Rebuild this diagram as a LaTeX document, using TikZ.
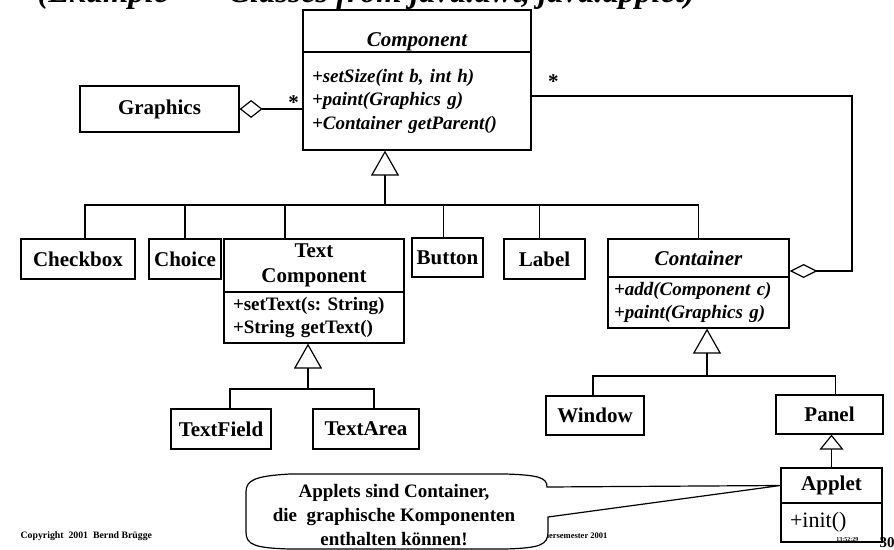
\documentclass[tikz,border=0pt]{standalone}
\usepackage{fontspec}
\setmainfont{Liberation Serif}
\usetikzlibrary{arrows.meta}
\frenchspacing

\begin{document}
\begin{tikzpicture}[x=1pt, y=-1pt, line width=1.2pt,
  box/.style={draw, inner sep=0pt, font=\fontsize{21}{25}\selectfont\bfseries},
  abs/.style={box, font=\fontsize{21}{25}\selectfont\bfseries\itshape},
  ops/.style={draw, inner xsep=9pt, inner ysep=0pt, align=left, font=\fontsize{19}{23.5}\selectfont\bfseries\itshape},
  inh/.style={-{Triangle[open, length=25pt, width=28pt]}},
  agg/.style={-{Diamond[open, length=23pt, width=18pt]}},
  mult/.style={inner sep=0pt, font=\fontsize{21}{25}\selectfont\bfseries},
  foot/.style={inner sep=0pt, font=\fontsize{9.8}{10}\selectfont\bfseries}]
\useasboundingbox (0,0) rectangle (894,549);
\clip (0,0) rectangle (894,549);

\node[anchor=base west, inner sep=0pt, font=\fontsize{32.7}{36}\selectfont\bfseries\itshape] (title) at (37,2) {(Example \,---\, Classes from java.awt, java.applet)};

\node[abs, minimum width=228pt, minimum height=42pt, text height=33pt, text depth=3pt] (comp) at (417,31) {Component};
\node[ops, text width=210pt, minimum height=98pt] (compm) at (417,101) {+setSize(int b, int h)\\+paint(Graphics g)\\+Container getParent()};
\node[box, minimum width=159pt, minimum height=46pt] (gr) at (159.5,109) {Graphics};

\node[box, minimum width=114pt, minimum height=40pt] (cb) at (78,259) {Checkbox};
\node[box, minimum width=72pt, minimum height=40pt] (ch) at (185,259) {Choice};
\node[box, minimum width=180pt, minimum height=53pt, align=center] (tc) at (314,265.5) {Text\\Component};
\node[ops, font=\fontsize{19}{23}\selectfont\bfseries, text width=162pt, minimum height=51pt] (tcm) at (314,317.5) {+setText(s: String)\\+String getText()};
\node[box, minimum width=71pt, minimum height=39pt] (bt) at (447.5,257.5) {Button};
\node[box, minimum width=81pt, minimum height=40pt] (lb) at (544.5,259) {Label};
\node[abs, minimum width=181pt, minimum height=38pt] (ctr) at (698.5,258) {Container};
\node[ops, inner xsep=6pt, text width=169pt, minimum height=51pt] (ctrm) at (698.5,302.5) {+add(Component c)\\+paint(Graphics g)};

\node[box, minimum width=100pt, minimum height=40pt] (tf) at (221,429) {TextField};
\node[box, minimum width=106pt, minimum height=40pt] (ta) at (366,429) {TextArea};
\node[box, minimum width=98pt, minimum height=39pt] (wn) at (595,415.5) {Window};
\node[box, minimum width=107pt, minimum height=39pt] (pn) at (829.5,414.5) {Panel};
\node[box, minimum width=101pt, minimum height=35pt] (ap) at (831.5,485.5) {Applet};
\node[ops, font=\fontsize{22}{24}\selectfont, text width=83pt, minimum height=39pt] (apm) at (831.5,522.5) {+init()};

\coordinate (j1) at (385,205);
\coordinate (j2) at (308,389);
\coordinate (j3) at (707,376);
\coordinate (rt) at (852,96);

\draw[inh] (j1) -- (j1 |- compm.south);
\draw ([xshift=7pt]cb.north) |- (j1) -| (ctr.north);
\draw (ch.north) |- (j1);
\draw ([xshift=-29pt]tc.north) |- (j1);
\draw ([xshift=-4pt]bt.north) |- (j1);
\draw ([xshift=-5pt]lb.north) |- (j1);

\draw[inh] (j2) -- (j2 |- tcm.south);
\draw ([xshift=9pt]tf.north) |- (j2) -| ([xshift=8pt]ta.north);

\draw[inh] (j3) -- (j3 |- ctrm.south);
\draw ([xshift=-2pt]wn.north) |- (j3) -| ([xshift=6pt]pn.north);

\draw[-{Triangle[open, length=15pt, width=24pt]}] (ap.north) -- (ap.north |- pn.south);

\draw[agg] (gr.east -| compm.west) node[mult, anchor=base east, xshift=-3pt]{*} -- (gr.east);
\draw[-{Diamond[open, length=28pt, width=14pt]}] ([yshift=5pt]compm.east) node[mult, anchor=base west, xshift=16pt, yshift=8pt]{*} -- (rt) |- ([yshift=-13pt]ctr.east);

\node[foot, anchor=base west] (copy) at (20,538) {Copyright\ \ 2001\ \ Bernd Brügge};
\node[foot, font=\fontsize{8.5}{9}\selectfont\bfseries, anchor=base east] (sem) at (608,538) {Sommersemester 2001};
\node[anchor=base east, inner sep=0pt, font=\fontsize{6}{6}\selectfont\bfseries] (time) at (859,541) {13:52:29};
\node[anchor=base west, inner sep=0pt, font=\fontsize{15}{15}\selectfont\bfseries] (page) at (879,547) {30};

\draw[fill=white] (ap.west) -- (548,517) -- (548,532) .. controls (548,545) and (540,548) .. (505,549) -- (290,549) .. controls (255,548) and (246,545) .. (246,532) -- (246,492) .. controls (246,480) and (255,476) .. (290,474) -- (505,474) .. controls (540,475) and (547,478) .. (547,487) -- cycle;
\node[font=\fontsize{19}{24}\selectfont\bfseries, align=center] (note) at (394,515) {Applets sind Container,\\die\ \ graphische Komponenten\\enthalten können!};
\end{tikzpicture}
\end{document}
